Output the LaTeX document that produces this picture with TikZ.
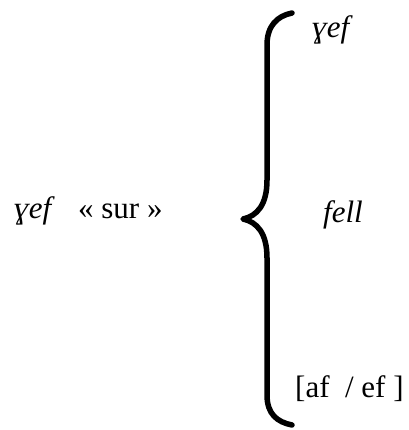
\documentclass[tikz,border=0pt]{standalone}
\usepackage{fontspec}
\setmainfont{Liberation Serif}
\begin{document}
\begin{tikzpicture}[x=1pt,y=-1pt,
  lbl/.style={anchor=base west,inner sep=0pt,font=\fontsize{31}{37}\selectfont},
  bracestroke/.style={line width=5.5pt,line cap=round,line join=round}]
\useasboundingbox (0,0) rectangle (408,430);
\node[lbl] (left) at (14,218) {\textit{ɣef}\hspace{0.75em}« sur »};
\node[lbl] (top) at (312,38) {\textit{ɣef}};
\node[lbl] (mid) at (323,222) {\textit{fell}};
\node[lbl] (bot) at (295,397) {[af\hspace{0.5em}/ ef ]};
\coordinate (bt) at (292,13);
\coordinate (tip) at (243,219);
\coordinate (bb) at (292,425);
\draw[bracestroke] (bt) .. controls (277,16) and (267,26) .. (267,45)
  -- (267,180) .. controls (267,205) and (257,216) .. (tip)
  .. controls (257,222) and (267,233) .. (267,258)
  -- (267,395) .. controls (267,414) and (277,422) .. (bb);
\end{tikzpicture}
\end{document}
